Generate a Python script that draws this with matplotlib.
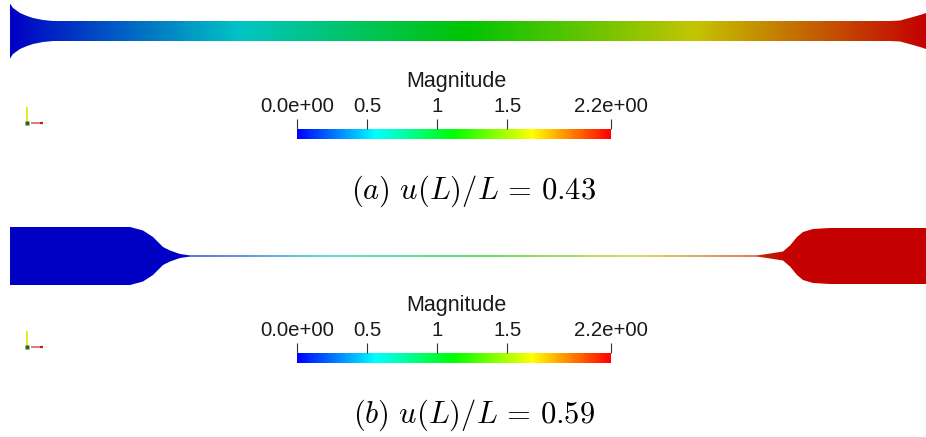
import numpy as np
import matplotlib.pyplot as plt
from matplotlib.colors import LinearSegmentedColormap, Normalize
from matplotlib.cm import ScalarMappable
from matplotlib.patches import Polygon

plt.rcParams['mathtext.fontset'] = 'cm'
plt.rcParams['font.family'] = ['Liberation Sans', 'DejaVu Sans']

W, H = 926, 437

# displacement magnitude range shown in the legend
u_min, u_max = 0.0, 2.24
tick_values = [0.0, 0.5, 1.0, 1.5, 2.24]
tick_labels = ['0.0e+00', '0.5', '1', '1.5', '2.2e+00']

# (a) specimen outline: axial station and half thickness
a_x = [10, 13, 20, 27, 33, 43, 53, 890, 900, 913, 920, 926, 940]
a_half = [27.5, 23, 18, 15, 13, 11, 10, 10, 10.5, 14, 16, 18, 27.5]
# (a) displacement magnitude along the specimen
a_ux = [10, 926, 940]
a_u = [0.0, 2.24, 2.24]

# (b) specimen outline
b_x = [10, 130, 143, 153, 163, 170, 180, 190, 757, 767, 783, 790, 797, 803, 813, 830, 926]
b_half = [29, 29, 25.5, 19, 9, 5.5, 2, 0.6, 0.6, 2, 4.5, 10.5, 19, 24, 27, 28, 28]
# (b) displacement magnitude along the specimen
b_ux = [10, 175, 790, 926]
b_u = [0.0, 0.0, 2.24, 2.24]

captions = [r'$(a)\ u(L)/L\,=\,0.43$', r'$(b)\ u(L)/L\,=\,0.59$']

rainbow = ['#0000ff', '#00ffff', '#00ff00', '#ffff00', '#ff0000']
lit = ['#0000c4', '#00c4c4', '#00c400', '#c4c400', '#c40000']
bar_cmap = LinearSegmentedColormap.from_list('blue_red_rainbow', rainbow)
lit_cmap = LinearSegmentedColormap.from_list('blue_red_lit', lit)
norm = Normalize(u_min, u_max)
levels = np.linspace(u_min, u_max, 257)

fig = plt.figure(figsize=(W / 100, H / 100), dpi=100)
ax = fig.add_axes([0, 0, 1, 1])
ax.set_xlim(0, W)
ax.set_ylim(H, 0)
ax.axis('off')


def draw_specimen(yc, xs, half, ux, u):
    xs = np.asarray(xs, float)
    half = np.asarray(half, float)
    outline = np.concatenate([np.c_[xs, yc - half],
                              np.c_[xs[::-1], yc + half[::-1]]])
    patch = Polygon(outline, closed=True, facecolor='none', edgecolor='none')
    ax.add_patch(patch)
    hmax = half.max() + 1
    X, Y = np.meshgrid(ux, [yc - hmax, yc + hmax])
    C = np.tile(np.asarray(u, float), (2, 1))
    cs = ax.contourf(X, Y, C, levels=levels, cmap=lit_cmap, norm=norm,
                     antialiased=False, extend='both')
    cs.set_clip_path(patch)


def draw_triad(x0, y0):
    ax.plot([x0, x0], [y0 - 16, y0], color='#e6e600', lw=1.2, solid_capstyle='butt')
    ax.plot([x0 + 4, x0 + 16], [y0, y0], color='#e06060', lw=1.2, solid_capstyle='butt')
    ax.plot([x0 + 13, x0 + 16], [y0, y0], color='#c02020', lw=1.6, solid_capstyle='butt')
    ax.plot([x0], [y0], 's', color='#1d6b1d', ms=2.8, mec='none')


def draw_legend(y_bar):
    cax = fig.add_axes([297 / W, 1 - (y_bar + 10) / H, 314 / W, 10 / H])
    cb = fig.colorbar(ScalarMappable(norm, bar_cmap), cax=cax,
                      orientation='horizontal', ticks=tick_values)
    cb.set_ticklabels(tick_labels)
    cb.outline.set_visible(False)
    cax.xaxis.set_ticks_position('top')
    cax.tick_params(direction='out', length=7.2, width=0.8, color='#333333',
                    labelsize=14.7, labelcolor='#1a1a1a', pad=2.5)
    ax.text(456, y_bar - 47, 'Magnitude', fontsize=15.5, color='#1a1a1a',
            ha='center', va='center')


draw_specimen(31, a_x, a_half, a_ux, a_u)
draw_specimen(256, b_x, b_half, b_ux, b_u)

for dy, cap in zip([0, 224], captions):
    draw_triad(27, 123 + dy)
    draw_legend(129 + dy)
    ax.text(474, 191 + dy, cap, fontsize=22, ha='center', va='center')

fig.savefig('out.png', dpi=100)
